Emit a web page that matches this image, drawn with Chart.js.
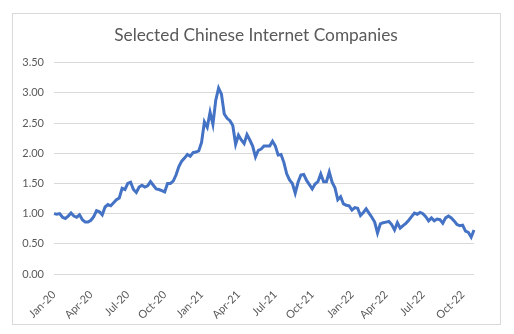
<!DOCTYPE html>
<html>
<head>
<meta charset="utf-8">
<script src="https://cdn.jsdelivr.net/npm/chart.js@4/dist/chart.umd.min.js"></script>
<style>
    html, body { margin: 0; padding: 0; background: #fff; }
    #wrap { position: relative; width: 514px; height: 334px; }
    #frame { position: absolute; left: 12px; top: 13px; width: 487px; height: 310px; border: 1px solid #d9d9d9; pointer-events: none; }
    canvas { position: absolute; left: 0; top: 0; }
</style>
</head>
<body>
<div id="wrap">
    <canvas id="chart" width="514" height="334"></canvas>
    <div id="frame"></div>
</div>
<script>
const chartTitle = 'Selected Chinese Internet Companies';
const firstWeek = '2020-01-03';
const tickLabels = ['Jan-20', 'Apr-20', 'Jul-20', 'Oct-20', 'Jan-21', 'Apr-21',
    'Jul-21', 'Oct-21', 'Jan-22', 'Apr-22', 'Jul-22', 'Oct-22'];
const yTicks = [0, 0.5, 1, 1.5, 2, 2.5, 3, 3.5];

// weekly index values
const values = [
    1.00, 0.99, 1.00, 0.94, 0.92, 0.96, 1.01, 0.96, 0.94, 0.98,
    0.90, 0.86, 0.86, 0.89, 0.95, 1.05, 1.03, 0.98, 1.11, 1.15,
    1.13, 1.18, 1.23, 1.26, 1.42, 1.40, 1.50, 1.52, 1.40, 1.35,
    1.44, 1.47, 1.44, 1.46, 1.53, 1.47, 1.41, 1.40, 1.38, 1.36,
    1.50, 1.50, 1.54, 1.64, 1.78, 1.87, 1.92, 1.98, 1.95, 2.01,
    2.02, 2.04, 2.18, 2.52, 2.43, 2.68, 2.48, 2.88, 3.08, 2.98,
    2.65, 2.58, 2.54, 2.46, 2.15, 2.30, 2.22, 2.16, 2.31, 2.22,
    2.12, 1.94, 2.05, 2.07, 2.12, 2.12, 2.12, 2.20, 2.12, 1.97,
    1.98, 1.85, 1.66, 1.56, 1.50, 1.34, 1.52, 1.64, 1.65, 1.55,
    1.48, 1.41, 1.49, 1.53, 1.66, 1.53, 1.53, 1.69, 1.52, 1.43,
    1.23, 1.28, 1.16, 1.14, 1.13, 1.06, 1.10, 1.09, 0.97, 1.02,
    1.08, 1.01, 0.94, 0.86, 0.68, 0.83, 0.85, 0.86, 0.87, 0.82,
    0.73, 0.85, 0.76, 0.80, 0.84, 0.89, 0.95, 1.01, 0.99, 1.02,
    1.00, 0.95, 0.88, 0.93, 0.88, 0.91, 0.90, 0.84, 0.93, 0.96,
    0.93, 0.88, 0.82, 0.80, 0.81, 0.71, 0.69, 0.61, 0.73
];

const start = new Date(firstWeek + 'T00:00:00Z');
const weeks = values.map((v, i) => new Date(start.getTime() + i * 7 * 86400000));
const labels = weeks.map(d => d.toISOString().slice(0, 10));

const quarterLabel = idx => {
    const d = weeks[idx];
    const m = d.getUTCMonth();
    if (m % 3 !== 0 || d.getUTCDate() > 7) return '';
    return tickLabels[(d.getUTCFullYear() - 2020) * 4 + m / 3] || '';
};

const axisFont = {family: 'Lato', size: 11};
const textColor = '#595959';

new Chart(document.getElementById('chart'), {
    type: 'line',
    data: {
        labels,
        datasets: [{
            data: values,
            borderColor: '#4472C4',
            borderWidth: 3,
            pointRadius: 0,
            tension: 0,
            fill: false
        }]
    },
    options: {
        responsive: false,
        animation: false,
        layout: {padding: {left: 12, right: 14, top: 10, bottom: 0}},
        plugins: {
            legend: {display: false},
            tooltip: {enabled: false},
            title: {
                display: true,
                text: chartTitle,
                color: textColor,
                font: {family: 'Lato', size: 17.3, weight: 'normal'},
                padding: {top: 15, bottom: 17}
            }
        },
        scales: {
            x: {
                grid: {display: false},
                border: {display: false},
                ticks: {
                    autoSkip: false,
                    minRotation: 45,
                    maxRotation: 45,
                    padding: 6,
                    color: textColor,
                    font: axisFont,
                    callback: (value, index) => quarterLabel(index)
                },
                afterFit: scale => { scale.height = 60; }
            },
            y: {
                min: 0,
                max: 3.5,
                afterBuildTicks: scale => { scale.ticks = yTicks.map(v => ({value: v})); },
                grid: {color: '#d9d9d9', drawTicks: false},
                border: {display: false},
                ticks: {
                    padding: 10,
                    color: textColor,
                    font: axisFont,
                    callback: v => v.toFixed(2)
                },
                afterFit: scale => { scale.width = 42; }
            },
            // empty right-hand spacer so the plot ends where the reference does
            spacer: {
                position: 'right',
                min: 0,
                max: 1,
                grid: {display: false},
                border: {display: false},
                ticks: {display: false},
                afterFit: scale => { scale.width = 26; }
            }
        }
    }
});
</script>
</body>
</html>
